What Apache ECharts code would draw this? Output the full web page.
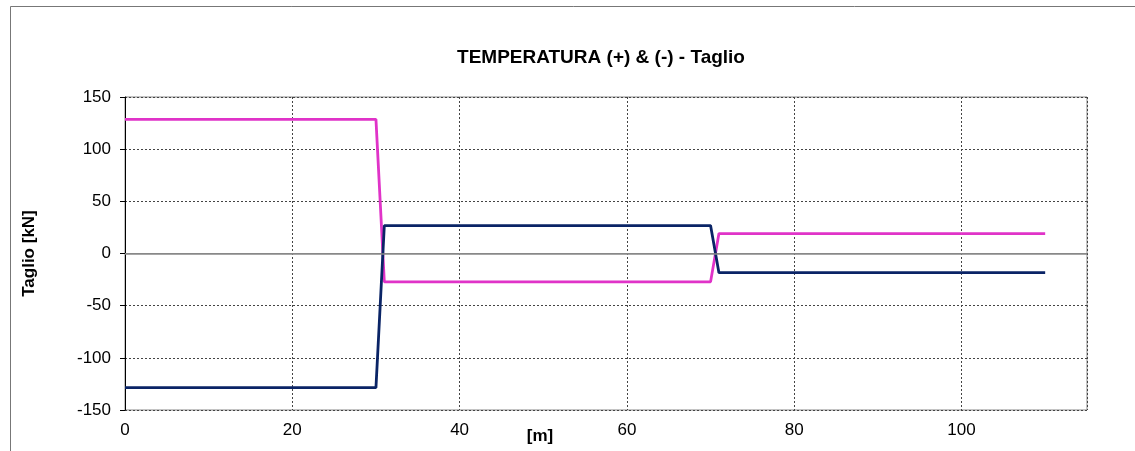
<!DOCTYPE html>
<html><head><meta charset="utf-8">
<script src="https://cdn.jsdelivr.net/npm/echarts@6/dist/echarts.min.js"></script>
<style>html,body{margin:0;padding:0;background:#fff}#c{width:1135px;height:451px}</style>
</head><body><div id="c"></div>
<script>
const xPos = [0, 30, 31, 70, 71, 110];
const tempPlus = [128.6, 128.6, -27.2, -27.2, 19.1, 19.1];
const tempMinus = [-128.6, -128.6, 26.8, 26.8, -18.4, -18.4];
const titleText = 'TEMPERATURA (+) & (-) - Taglio';
const yName = 'Taglio [kN]';
const xName = '[m]';

const pair = (xs, ys) => xs.map((x, i) => [x, ys[i]]);
const font = 'Liberation Sans, Arial, sans-serif';
const chart = echarts.init(document.getElementById('c'));
chart.setOption({
  animation: false,
  graphic: [{type: 'rect', shape: {x: 10.5, y: 6.5, width: 1140, height: 460}, style: {fill: 'none', stroke: '#777', lineWidth: 1}}],
  title: {text: titleText, left: 596, top: 43, textAlign: 'center', textStyle: {fontFamily: font, fontSize: 19, fontWeight: 'bold', color: '#000'}},
  grid: {left: 125, top: 97, right: 48, bottom: 41, show: true, borderColor: '#888', borderWidth: 1, containLabel: false, outerBoundsMode: 'none'},
  xAxis: {type: 'value', min: 0, max: 115, interval: 20,
    name: xName, nameLocation: 'middle', nameGap: 18, nameMoveOverlap: false,
    nameTextStyle: {fontFamily: font, fontSize: 17, fontWeight: 'bold', color: '#000', verticalAlign: 'top', padding: [0, 132, 0, 0]},
    axisLine: {show: true, lineStyle: {color: '#888', width: 1}},
    axisTick: {show: false},
    axisLabel: {fontFamily: font, fontSize: 17, color: '#000', margin: 12, showMaxLabel: false},
    splitLine: {show: true, lineStyle: {color: '#444', type: [2, 2], width: 1}}},
  yAxis: {type: 'value', min: -150, max: 150, interval: 50,
    name: yName, nameLocation: 'middle', nameGap: 87, nameRotate: 90,
    nameTextStyle: {fontFamily: font, fontSize: 17, fontWeight: 'bold', color: '#000'},
    axisLine: {show: true, onZero: false, lineStyle: {color: '#000', width: 1}},
    axisTick: {show: true, length: 5, lineStyle: {color: '#000'}},
    axisLabel: {fontFamily: font, fontSize: 17, color: '#000', margin: 14},
    splitLine: {show: true, lineStyle: {color: '#444', type: [2, 2], width: 1}}},
  series: [
    {type: 'line', data: pair(xPos, tempPlus), symbol: 'none', lineStyle: {color: '#E033C8', width: 2.8}, z: 3,
     markLine: {silent: true, symbol: 'none', label: {show: false}, lineStyle: {color: '#888', type: 'solid', width: 1.5}, data: [{yAxis: 0}]}},
    {type: 'line', data: pair(xPos, tempMinus), symbol: 'none', lineStyle: {color: '#0A2466', width: 2.8}, z: 4}
  ]
});
</script></body></html>
